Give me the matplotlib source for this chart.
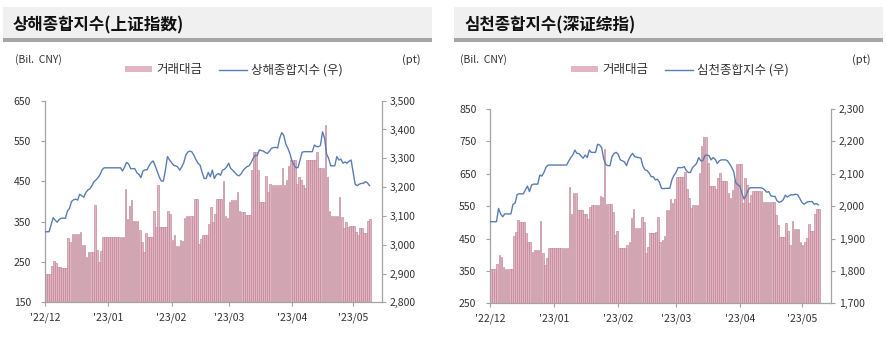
import numpy as np
import matplotlib.pyplot as plt
from matplotlib.patches import Rectangle, Patch
from matplotlib.lines import Line2D
from matplotlib.ticker import FuncFormatter

plt.rcParams['font.family'] = ['Noto Sans CJK KR', 'DejaVu Sans']

# daily calendar data, 2022-12-01 .. 2023-05-09
dates = np.arange('2022-12-01', '2023-05-10', dtype='datetime64[D]')

# Shanghai: turnover (Bil. CNY) and index (pt)
sh_amount = [
    220, 220, 220, 240, 252, 248, 238, 238, 235, 235,
    235, 310, 300, 320, 320, 320, 320, 325, 292, 292,
    262, 275, 275, 275, 392, 280, 250, 278, 313, 313,
    313, 313, 313, 313, 313, 313, 313, 313, 313, 432,
    357, 390, 403, 352, 352, 352, 330, 300, 275, 322,
    313, 313, 313, 377, 336, 442, 336, 336, 336, 336,
    377, 370, 305, 316, 290, 290, 305, 301, 360, 364,
    364, 364, 364, 406, 406, 294, 307, 318, 318, 318,
    343, 387, 350, 370, 405, 405, 405, 451, 365, 360,
    398, 403, 403, 403, 424, 376, 373, 373, 366, 366,
    366, 478, 522, 522, 477, 400, 400, 400, 463, 424,
    443, 440, 440, 440, 440, 440, 484, 440, 453, 487,
    502, 502, 502, 443, 461, 453, 440, 433, 503, 503,
    503, 503, 503, 523, 484, 484, 484, 590, 461, 376,
    364, 364, 364, 364, 410, 362, 335, 350, 337, 340,
    340, 340, 324, 316, 335, 335, 322, 322, 351, 357,
]
sh_index = [
    3045, 3045, 3045, 3070, 3094, 3085, 3078, 3088, 3092, 3092,
    3092, 3117, 3126, 3150, 3156, 3158, 3155, 3175, 3170, 3165,
    3181, 3190, 3194, 3205, 3219, 3225, 3233, 3244, 3260, 3267,
    3267, 3267, 3267, 3267, 3267, 3267, 3267, 3267, 3256, 3270,
    3286, 3280, 3264, 3264, 3264, 3250, 3244, 3233, 3256, 3260,
    3260, 3274, 3285, 3291, 3274, 3255, 3235, 3221, 3221, 3259,
    3306, 3295, 3285, 3276, 3274, 3270, 3259, 3270, 3285, 3311,
    3322, 3325, 3322, 3310, 3295, 3283, 3276, 3251, 3230, 3230,
    3251, 3236, 3259, 3230, 3243, 3247, 3241, 3259, 3262, 3270,
    3283, 3265, 3258, 3251, 3243, 3239, 3245, 3257, 3265, 3271,
    3274, 3285, 3300, 3311, 3309, 3329, 3327, 3325, 3320, 3317,
    3325, 3335, 3337, 3338, 3336, 3369, 3389, 3380, 3350, 3335,
    3317, 3291, 3277, 3267, 3268, 3294, 3321, 3323, 3323, 3323,
    3323, 3323, 3346, 3341, 3340, 3345, 3392, 3370, 3314, 3300,
    3274, 3274, 3274, 3306, 3294, 3297, 3283, 3287, 3283, 3290,
    3294, 3251, 3210, 3205, 3210, 3213, 3213, 3219, 3215, 3205,
]

# Shenzhen: turnover (Bil. CNY) and index (pt)
sz_amount = [
    355, 355, 355, 370, 399, 392, 363, 355, 355, 355,
    355, 458, 471, 507, 500, 500, 500, 466, 438, 438,
    409, 414, 414, 414, 504, 406, 368, 389, 420, 420,
    420, 420, 420, 420, 420, 420, 420, 420, 610, 526,
    592, 592, 538, 538, 538, 526, 526, 509, 548, 553,
    553, 553, 553, 580, 578, 725, 557, 557, 557, 531,
    461, 473, 420, 420, 420, 420, 430, 440, 514, 541,
    482, 482, 482, 517, 500, 404, 425, 466, 466, 466,
    471, 517, 438, 444, 458, 538, 538, 571, 561, 571,
    641, 641, 641, 641, 654, 603, 574, 543, 553, 553,
    553, 651, 736, 762, 762, 682, 613, 613, 613, 602,
    638, 651, 628, 628, 628, 590, 576, 600, 630, 679,
    679, 679, 561, 636, 615, 561, 584, 597, 597, 597,
    597, 597, 564, 564, 564, 564, 564, 564, 523, 492,
    456, 456, 456, 499, 474, 430, 504, 479, 479, 479,
    438, 430, 440, 451, 494, 474, 474, 527, 541, 541,
]
sz_index = [
    1952, 1952, 1952, 1952, 1993, 1976, 1967, 1976, 1976, 1976,
    1976, 2006, 2009, 2036, 2038, 2038, 2038, 2050, 2062, 2045,
    2065, 2068, 2068, 2068, 2096, 2093, 2104, 2120, 2127, 2127,
    2127, 2127, 2127, 2127, 2127, 2127, 2127, 2127, 2139, 2150,
    2158, 2173, 2163, 2162, 2155, 2148, 2158, 2150, 2173, 2166,
    2166, 2166, 2191, 2189, 2180, 2145, 2128, 2125, 2125, 2153,
    2163, 2166, 2160, 2143, 2140, 2137, 2125, 2143, 2155, 2163,
    2153, 2151, 2150, 2148, 2123, 2112, 2110, 2102, 2091, 2091,
    2081, 2083, 2074, 2055, 2054, 2055, 2055, 2055, 2081, 2095,
    2104, 2119, 2119, 2119, 2122, 2110, 2104, 2104, 2119, 2125,
    2132, 2150, 2140, 2140, 2156, 2158, 2156, 2143, 2150, 2145,
    2132, 2140, 2143, 2143, 2143, 2140, 2130, 2120, 2106, 2072,
    2066, 2062, 2038, 2022, 2033, 2050, 2057, 2057, 2057, 2057,
    2057, 2057, 2055, 2050, 2043, 2045, 2032, 2030, 2030, 2016,
    2012, 2014, 2020, 2034, 2028, 2033, 2035, 2035, 2037, 2035,
    2024, 2012, 2006, 2010, 2014, 2014, 2014, 2006, 2008, 2004,
]

month_starts = np.array(['2022-12-01', '2023-01-01', '2023-02-01',
                         '2023-03-01', '2023-04-01', '2023-05-01'], dtype='datetime64[D]')
month_labels = ["'22/12", "'23/01", "'23/02", "'23/03", "'23/04", "'23/05"]

BAR_COLOR = '#e2b5c3'
BAR_EDGE = '#bb7c90'
LINE_COLOR = '#5a7db3'
SPINE = '#a3a3a3'
TEXT = '#333333'

W, H = 887, 353
fig = plt.figure(figsize=(W / 100, H / 100), dpi=100)


def fx(px):
    return px / W


def fy(py):
    return 1 - py / H


def panel(box, hdr, header, header_x, unit_x, pt_x, leg_x,
          amount, index, left_ticks, right_ticks, name):
    x0, y0, x1, y1 = box
    hl, hr = hdr
    fig.patches.append(Rectangle((fx(hl), fy(38)), fx(hr - hl), 31 / H,
                                 transform=fig.transFigure, facecolor='#f0f0f0',
                                 edgecolor='none', zorder=0))
    fig.patches.append(Rectangle((fx(hl), fy(42)), fx(hr - hl), 4 / H,
                                 transform=fig.transFigure, facecolor='#a6a6a6',
                                 edgecolor='none', zorder=0))
    fig.text(fx(header_x), fy(25), header, fontsize=12, fontweight='bold',
             ha='left', va='center', color='#111111')
    fig.text(fx(unit_x), fy(60), '(Bil.  CNY)', fontsize=7.5, ha='left',
             va='center', color=TEXT)
    fig.text(fx(pt_x), fy(60), '(pt)', fontsize=8, ha='right',
             va='center', color=TEXT)

    ax = fig.add_axes([fx(x0), fy(y1), fx(x1 - x0), (y1 - y0) / H])
    x = (dates - dates[0]).astype(int)
    ax.bar(x, amount, width=0.8, align='edge', color=BAR_COLOR,
           edgecolor=BAR_EDGE, linewidth=0.4)
    ax.set_ylim(left_ticks[0], left_ticks[-1])
    ax.set_yticks(left_ticks)
    ax.set_xlim(0, 165)
    ax.set_xticks((month_starts - dates[0]).astype(int))
    ax.set_xticklabels(month_labels)

    ax2 = ax.twinx()
    ax2.plot(x, index, color=LINE_COLOR, lw=1.0)
    ax2.set_ylim(right_ticks[0], right_ticks[-1])
    ax2.set_yticks(right_ticks)
    ax2.yaxis.set_major_formatter(FuncFormatter(lambda v, p: f'{v:,.0f}'))

    for a in (ax, ax2):
        a.spines['top'].set_visible(False)
        for s in a.spines.values():
            s.set_color(SPINE)
            s.set_linewidth(0.9)
    ax.spines['right'].set_visible(False)
    ax2.spines['left'].set_visible(False)
    ax2.spines['bottom'].set_visible(False)

    ax.tick_params(axis='y', direction='out', length=3, width=0.8, color=SPINE,
                   labelsize=7.5, labelcolor=TEXT, pad=7)
    ax.tick_params(axis='x', direction='out', length=3, width=0.8, color=SPINE,
                   labelsize=7.5, labelcolor=TEXT, pad=4)
    ax2.tick_params(axis='y', direction='out', length=3, width=0.8, color=SPINE,
                    labelsize=7.5, labelcolor=TEXT, pad=3)

    handles = [Patch(facecolor=BAR_COLOR, edgecolor='none'),
               Line2D([], [], color=LINE_COLOR, lw=1.0)]
    fig.legend(handles, ['거래대금', name + ' (우)'], loc='center left',
               bbox_to_anchor=(fx(leg_x), fy(70)), ncol=2, frameon=False,
               fontsize=9, handlelength=2.2, handleheight=0.4,
               handletextpad=0.32, columnspacing=1.35, borderpad=0,
               borderaxespad=0, labelcolor=TEXT)


panel((45, 100.7, 381.7, 302.3), (3, 432), '상해종합지수(上证指数)', 12.7, 15, 421, 125,
      sh_amount, sh_index, [150, 250, 350, 450, 550, 650],
      [2800, 2900, 3000, 3100, 3200, 3300, 3400, 3500], '상해종합지수')

panel((490.3, 109, 830.7, 303.3), (454, 883), '심천종합지수(深证综指)', 464.7, 460, 871, 571,
      sz_amount, sz_index, [250, 350, 450, 550, 650, 750, 850],
      [1700, 1800, 1900, 2000, 2100, 2200, 2300], '심천종합지수')

fig.savefig('out.png', dpi=100)
